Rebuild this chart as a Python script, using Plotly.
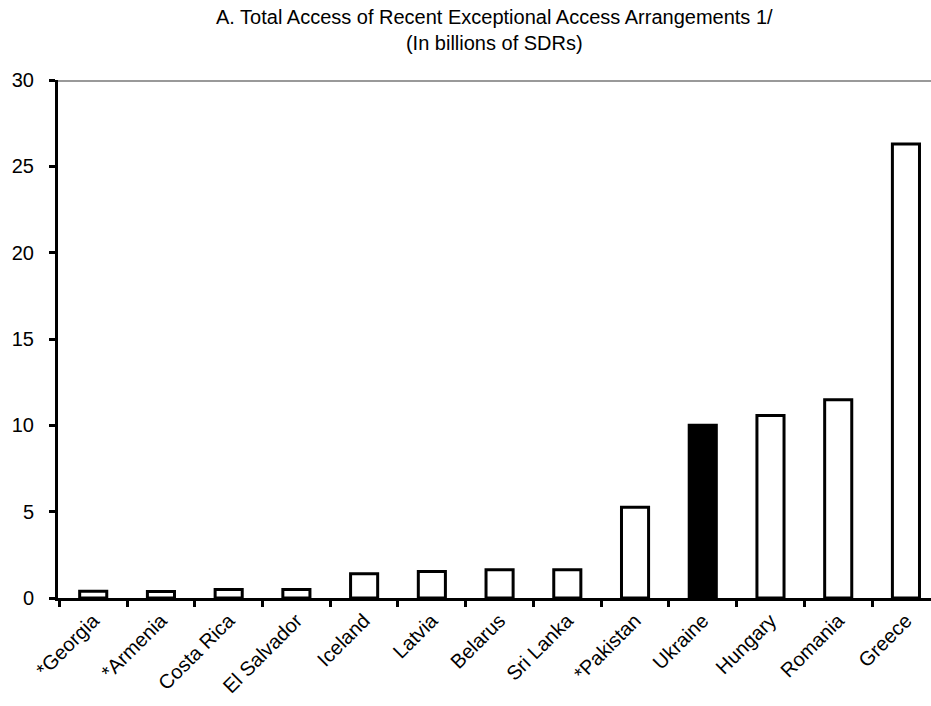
import plotly.graph_objects as go

countries = ["*Georgia", "*Armenia", "Costa Rica", "El Salvador", "Iceland", "Latvia",
             "Belarus", "Sri Lanka", "*Pakistan", "Ukraine", "Hungary", "Romania", "Greece"]
access = [0.39, 0.38, 0.49, 0.49, 1.41, 1.53, 1.64, 1.64, 5.25, 10.0, 10.57, 11.48, 26.3]
highlight = "Ukraine"
title_text = "A. Total Access of Recent Exceptional Access Arrangements 1/<br>(In billions of SDRs)"

fills = ["black" if c == highlight else "white" for c in countries]

fig = go.Figure()
fig.add_trace(go.Bar(
    x=countries, y=access, width=0.4,
    marker=dict(color=fills, line=dict(color="black", width=3)),
    showlegend=False,
))

fig.add_shape(type="line", xref="paper", yref="y", x0=0, x1=1, y0=30, y1=30,
              line=dict(color="#999999", width=4), layer="below")

FONT = "Liberation Sans, Arial, sans-serif"
fig.add_annotation(text=title_text, xref="paper", yref="paper", x=0.5, y=1.1467,
                   xanchor="center", yanchor="top", showarrow=False,
                   font=dict(size=20, family=FONT, color="black"))

fig.update_layout(
    width=931, height=706,
    margin=dict(l=58, r=0, t=80, b=108),
    paper_bgcolor="white", plot_bgcolor="white",
    font=dict(family=FONT, color="black", size=20),
)
fig.update_xaxes(
    type="category", range=[-0.52, 12.37], automargin=False,
    showline=True, linecolor="black", linewidth=3,
    ticks="outside", tickson="boundaries", ticklen=6, tickwidth=3, tickcolor="black",
    tickangle=-45, showgrid=False, zeroline=False,
    tickfont=dict(size=20, family=FONT),
)
fig.update_yaxes(
    range=[0, 30], tickvals=[0, 5, 10, 15, 20, 25, 30], automargin=False,
    showline=True, linecolor="black", linewidth=3,
    ticks="outside", ticklen=6, tickwidth=3, tickcolor="black",
    showgrid=False, zeroline=False, ticklabelstandoff=11,
    tickfont=dict(size=20, family=FONT),
)

fig.write_html("out.html", config={"displayModeBar": False},
               post_script="document.body.style.margin='0';")
